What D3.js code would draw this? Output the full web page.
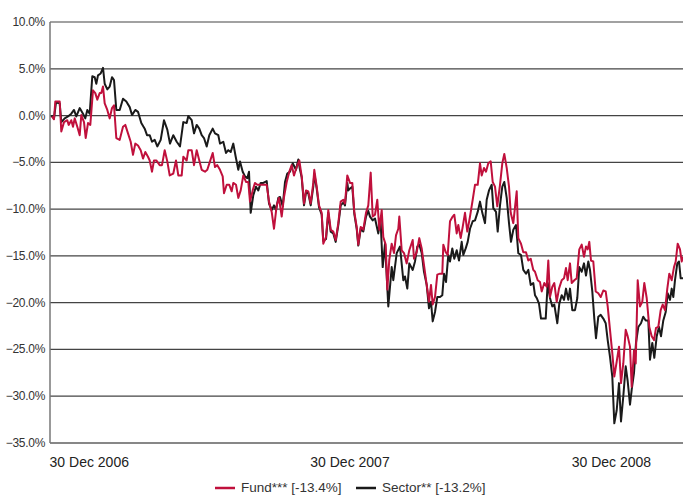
<!DOCTYPE html>
<html>
<head>
<meta charset="utf-8">
<script src="https://cdn.jsdelivr.net/npm/d3@7"></script>
<style>
  body { margin: 0; background: #fff; }
  text { font-family: "Liberation Sans", Arial, sans-serif; fill: #333; }
</style>
</head>
<body>
<div id="chart"></div>
<script>
// weeks since 5 Nov 2006, cumulative % change
const startDate = new Date(2006, 10, 5);
const totalWeeks = 126.6;

const yTicks = [10, 5, 0, -5, -10, -15, -20, -25, -30, -35];
const xTickDates = [new Date(2006, 11, 30), new Date(2007, 11, 30), new Date(2008, 11, 30)];
const xTickLabels = ["30 Dec 2006", "30 Dec 2007", "30 Dec 2008"];

const seriesNames = ["Fund*** [-13.4%]", "Sector** [-13.2%]"];
const seriesColors = ["#c0103c", "#1a1a1a"];

const fund = [
  [0.4,-0.1],[0.8,-0.4],[1.06,1.5],[1.94,1.5],[2.26,-1.7],[2.8,-0.7],[3.46,-0.5],[3.74,-1.0],
  [4.26,-0.5],[4.6,-1.2],[4.94,-0.3],[5.46,-1.2],[5.94,-2.1],[6.26,0.05],[6.8,-0.7],[7.14,-2.4],
  [7.6,-0.8],[8.06,-1.0],[8.6,2.7],[9.06,2.4],[9.46,1.7],[9.94,2.4],[10.26,2.4],[10.6,3.1],
  [10.94,1.3],[11.46,0.6],[11.94,-0.3],[12.4,0.8],[12.8,1.1],[13.26,-2.4],[13.94,-2.6],[14.6,-1.2],
  [15.06,-1.0],[15.6,-1.9],[16.14,-2.8],[16.6,-4.2],[17.06,-3.0],[17.6,-3.2],[18.14,-3.7],[18.6,-4.6],
  [19.06,-3.9],[19.6,-4.4],[19.94,-4.8],[20.4,-6.0],[20.8,-4.8],[21.26,-4.8],[21.94,-5.3],[22.4,-5.3],
  [22.94,-3.7],[23.46,-4.9],[23.94,-6.4],[24.66,-6.2],[25.2,-4.8],[25.66,-6.4],[26.34,-6.4],[26.66,-4.4],
  [27.34,-4.8],[27.66,-3.7],[28.34,-3.7],[28.8,-5.3],[29.34,-3.7],[29.86,-4.8],[30.34,-5.8],[31.0,-6.0],
  [31.46,-5.8],[32.0,-4.9],[32.54,-4.0],[33.0,-5.5],[33.46,-5.3],[34.0,-5.8],[34.54,-6.5],[34.8,-8.3],
  [35.34,-7.4],[35.86,-7.4],[36.34,-8.1],[36.66,-7.2],[37.2,-7.4],[37.66,-8.8],[38.14,-8.0],[38.66,-6.4],
  [39.2,-7.1],[39.66,-7.1],[40.0,-9.2],[40.54,-8.0],[41.0,-7.2],[41.46,-7.4],[42.0,-7.4],[42.66,-7.4],
  [43.34,-7.4],[43.8,-9.2],[44.34,-10.3],[44.8,-12.1],[45.34,-9.6],[45.8,-8.8],[46.34,-10.8],[46.8,-8.7],
  [47.34,-7.1],[47.86,-6.0],[48.34,-5.3],[48.8,-6.4],[49.34,-5.5],[49.86,-4.8],[50.34,-6.5],[50.8,-9.4],
  [51.2,-8.0],[51.66,-8.1],[52.14,-9.4],[52.66,-7.2],[52.86,-5.8],[53.34,-7.6],[53.8,-9.6],[54.34,-10.4],
  [54.66,-13.7],[55.2,-13.0],[55.66,-10.1],[56.14,-12.2],[56.66,-12.4],[57.14,-13.3],[57.66,-11.5],[58.14,-9.2],
  [58.66,-9.0],[59.0,-9.4],[59.46,-6.4],[60.0,-7.2],[60.46,-7.2],[60.86,-10.3],[61.34,-11.9],[61.66,-13.8],
  [62.14,-11.9],[62.66,-12.2],[63.2,-10.4],[63.66,-9.6],[64.14,-6.1],[64.54,-10.8],[65.0,-10.6],[65.46,-9.0],
  [65.86,-12.2],[66.34,-10.1],[66.66,-13.0],[67.14,-13.8],[67.46,-18.6],[67.86,-15.4],[68.34,-13.7],[68.8,-14.7],
  [69.2,-12.8],[69.66,-12.1],[69.86,-10.8],[70.34,-14.4],[70.8,-14.7],[71.34,-15.8],[71.86,-14.4],[72.54,-13.3],
  [72.8,-15.3],[73.34,-14.6],[73.86,-13.1],[74.34,-14.2],[74.8,-16.0],[75.34,-18.1],[75.8,-19.9],[76.2,-18.1],
  [76.54,-20.2],[77.0,-19.4],[77.46,-17.0],[78.0,-16.9],[78.46,-16.9],[78.66,-13.8],[79.14,-14.6],[79.54,-14.9],
  [80.0,-11.3],[80.54,-10.8],[80.86,-10.6],[81.34,-12.6],[81.66,-11.7],[82.14,-13.1],[82.54,-11.9],[83.0,-10.4],
  [83.46,-12.4],[84.0,-10.8],[84.54,-9.0],[85.0,-7.4],[85.54,-7.4],[86.0,-5.1],[86.34,-6.4],[86.8,-5.6],
  [87.2,-6.0],[87.66,-5.1],[88.14,-4.9],[88.54,-7.1],[89.0,-7.6],[89.46,-9.7],[90.0,-7.4],[90.46,-5.1],
  [90.86,-4.1],[91.34,-5.6],[91.8,-7.6],[92.14,-10.4],[92.66,-11.5],[93.34,-8.1],[93.66,-13.1],[94.2,-13.7],
  [94.66,-14.6],[95.2,-14.6],[95.66,-15.5],[96.14,-15.3],[96.66,-16.5],[97.0,-16.7],[97.54,-17.6],[98.0,-17.8],
  [98.34,-18.8],[98.86,-17.9],[99.34,-18.3],[99.66,-15.5],[100.0,-19.4],[100.46,-18.3],[100.86,-17.9],[101.34,-19.9],
  [101.8,-18.5],[102.34,-17.6],[102.8,-17.4],[103.2,-16.3],[103.54,-17.6],[104.0,-15.8],[104.34,-17.9],[104.86,-17.6],
  [105.34,-17.4],[105.86,-14.3],[106.34,-13.8],[106.8,-15.1],[107.2,-14.0],[107.54,-14.3],[107.86,-13.5],[108.2,-15.5],
  [108.66,-15.6],[109.14,-18.8],[109.66,-19.0],[110.14,-19.4],[110.66,-18.7],[111.14,-18.8],[111.54,-20.4],[112.0,-22.9],
  [112.46,-25.4],[112.86,-27.9],[113.34,-26.3],[113.8,-24.7],[114.2,-28.6],[114.66,-26.5],[115.14,-22.9],[115.54,-23.6],
  [116.0,-24.7],[116.34,-29.0],[116.8,-25.1],[117.14,-26.5],[117.54,-17.6],[118.0,-20.4],[118.46,-19.9],[118.86,-17.9],
  [119.34,-19.5],[119.86,-22.6],[120.34,-23.6],[120.8,-24.0],[121.2,-22.7],[121.66,-22.6],[122.14,-20.8],[122.54,-20.2],
  [123.0,-20.8],[123.46,-18.5],[123.86,-16.9],[124.34,-17.6],[124.8,-16.2],[125.14,-15.6],[125.54,-13.7],[126.0,-14.3],
  [126.34,-15.6],[126.6,-15.1]
];

const sector = [
  [0.26,0.0],[0.8,-0.3],[1.2,1.4],[1.94,1.3],[2.26,-0.7],[2.94,-0.3],[3.6,-0.1],[4.26,0.2],
  [4.8,0.6],[5.26,-0.1],[5.94,0.8],[6.6,0.2],[7.06,-0.3],[7.46,0.6],[7.94,0.2],[8.46,4.2],
  [8.94,4.1],[9.26,3.4],[9.6,4.3],[10.14,4.5],[10.6,5.1],[10.94,3.4],[11.46,2.8],[11.94,3.1],
  [12.4,4.1],[12.8,3.8],[13.26,0.6],[13.94,0.6],[14.6,1.8],[15.26,1.5],[15.94,0.9],[16.4,0.05],
  [17.06,0.6],[17.6,0.4],[18.26,-0.8],[18.94,-1.4],[19.4,-2.1],[19.94,-2.1],[20.4,-2.8],[20.94,-2.6],
  [21.46,-3.3],[22.14,-2.6],[22.8,-0.5],[23.46,-1.5],[24.0,-3.0],[24.66,-2.1],[25.34,-2.8],[26.0,-3.3],
  [26.66,-0.7],[27.34,-0.8],[27.66,-0.05],[28.34,-0.5],[28.8,-1.9],[29.34,-1.0],[29.86,-1.4],[30.34,-2.1],
  [30.8,-2.4],[31.34,-3.3],[31.86,-2.1],[32.54,-1.4],[33.0,-1.9],[33.66,-2.1],[34.0,-3.0],[34.66,-2.8],
  [35.2,-4.0],[35.66,-3.7],[36.14,-3.9],[36.66,-3.0],[37.14,-4.4],[37.66,-5.8],[38.0,-4.9],[38.54,-6.0],
  [39.0,-6.5],[39.46,-6.7],[39.8,-6.0],[40.14,-10.4],[40.66,-8.5],[41.2,-7.6],[41.66,-8.0],[42.14,-7.2],
  [42.66,-7.2],[43.34,-7.0],[43.8,-9.4],[44.34,-10.1],[44.8,-9.6],[45.2,-10.1],[45.66,-8.8],[46.0,-8.7],
  [46.54,-9.7],[47.0,-7.1],[47.46,-6.2],[48.0,-6.0],[48.54,-5.1],[49.2,-5.8],[49.66,-4.7],[50.0,-5.8],
  [50.34,-6.6],[50.8,-9.6],[51.2,-8.2],[51.66,-8.3],[52.14,-9.6],[52.66,-7.6],[52.86,-6.2],[53.34,-7.8],
  [53.8,-9.8],[54.34,-10.6],[54.66,-13.4],[55.2,-13.2],[55.66,-10.4],[56.14,-12.4],[56.66,-12.6],[57.14,-13.5],
  [57.66,-11.7],[58.14,-9.6],[58.66,-9.3],[59.0,-9.6],[59.46,-7.2],[59.66,-8.0],[60.0,-7.8],[60.46,-7.6],
  [60.86,-10.5],[61.34,-12.1],[61.66,-13.9],[62.14,-12.1],[62.66,-12.4],[63.2,-10.8],[63.66,-10.2],[64.0,-10.8],
  [64.54,-11.2],[65.0,-11.0],[65.66,-12.6],[66.1,-11.0],[66.54,-16.2],[67.0,-13.7],[67.66,-20.4],[68.34,-16.2],
  [68.66,-17.6],[69.34,-14.7],[70.0,-14.0],[70.66,-17.6],[71.0,-17.2],[71.46,-18.5],[71.86,-15.8],[72.54,-16.5],
  [73.0,-15.6],[73.46,-14.0],[73.86,-13.8],[74.34,-14.7],[74.8,-16.7],[75.34,-18.1],[75.8,-20.6],[76.2,-19.9],
  [76.54,-22.0],[77.0,-21.0],[77.46,-19.4],[78.0,-19.4],[78.46,-19.2],[78.8,-16.9],[79.2,-17.8],[79.66,-14.9],
  [80.0,-15.6],[80.46,-14.2],[80.86,-15.3],[81.34,-14.4],[81.8,-15.5],[82.34,-13.5],[82.66,-14.9],[83.14,-14.2],
  [83.54,-13.5],[84.0,-12.1],[84.54,-11.3],[85.0,-11.2],[85.54,-10.3],[86.0,-9.2],[86.46,-10.4],[87.0,-11.5],
  [87.34,-9.0],[87.8,-8.0],[88.34,-7.4],[88.66,-9.9],[89.2,-10.3],[89.54,-12.4],[90.0,-9.6],[90.46,-7.6],
  [90.86,-7.1],[91.34,-8.8],[91.8,-11.5],[92.2,-13.5],[92.66,-12.2],[93.2,-11.7],[93.66,-14.7],[94.2,-14.9],
  [94.66,-16.5],[95.2,-16.9],[95.66,-16.5],[96.14,-18.1],[96.66,-17.9],[97.0,-19.2],[97.34,-19.5],[97.8,-20.1],
  [98.2,-21.7],[98.66,-21.7],[99.14,-21.7],[99.54,-17.9],[100.0,-19.5],[100.46,-20.4],[100.86,-20.2],[101.46,-22.2],
  [101.86,-20.1],[102.34,-19.2],[102.8,-19.7],[103.2,-18.5],[103.66,-19.7],[104.0,-18.5],[104.46,-20.8],[105.0,-20.8],
  [105.46,-19.5],[105.86,-16.2],[106.34,-16.7],[106.8,-15.8],[107.2,-17.1],[107.66,-15.6],[108.0,-16.5],[108.46,-18.8],
  [108.86,-21.7],[109.2,-23.8],[109.66,-21.5],[110.14,-21.3],[110.66,-21.7],[111.14,-22.2],[111.54,-24.0],[112.0,-25.8],
  [112.46,-27.9],[112.86,-32.9],[113.34,-31.5],[113.8,-28.6],[114.2,-32.7],[114.66,-30.0],[115.14,-26.8],[115.54,-28.4],
  [116.0,-30.9],[116.34,-29.3],[116.8,-27.5],[117.2,-24.3],[117.66,-22.6],[118.2,-22.2],[118.66,-21.5],[119.14,-21.9],
  [119.66,-21.9],[120.0,-26.1],[120.46,-24.3],[120.86,-25.9],[121.34,-23.6],[121.8,-22.6],[122.2,-23.6],[122.66,-21.9],
  [123.14,-21.0],[123.54,-19.0],[124.0,-19.7],[124.34,-18.5],[124.66,-19.4],[125.0,-17.6],[125.46,-15.8],[125.8,-15.6],
  [126.14,-17.4],[126.6,-17.4]
];

const W = 683, H = 497;
const plotLeft = 50, plotRight = 683, plotTop = 22, plotBottom = 443;

const weekToDate = w => new Date(startDate.getTime() + w * 7 * 864e5);

const x = d3.scaleTime()
  .domain([startDate, weekToDate(totalWeeks)])
  .range([plotLeft, plotRight]);
const y = d3.scaleLinear().domain([-35, 10]).range([plotBottom, plotTop]);

const svg = d3.select("#chart").append("svg")
  .attr("width", W).attr("height", H);

// horizontal grid
svg.append("g").selectAll("line")
  .data(yTicks)
  .enter().append("line")
  .attr("x1", plotLeft).attr("x2", plotRight)
  .attr("y1", d => y(d)).attr("y2", d => y(d))
  .attr("stroke", d => d === -35 ? "#111" : "#444")
  .attr("stroke-width", 1.2);

// y labels
svg.append("g").selectAll("text")
  .data(yTicks)
  .enter().append("text")
  .attr("x", 45).attr("y", d => y(d) + 4)
  .attr("text-anchor", "end")
  .style("font-size", "12px")
  .style("letter-spacing", "-0.3px")
  .text(d => d3.format(".1f")(d) + "%");

// left axis line
svg.append("line")
  .attr("x1", plotLeft).attr("x2", plotLeft)
  .attr("y1", plotTop).attr("y2", plotBottom)
  .attr("stroke", "#777").attr("stroke-width", 1.5);

// x labels
svg.append("g").selectAll("text")
  .data(xTickDates)
  .enter().append("text")
  .attr("x", d => x(d)).attr("y", 467)
  .attr("text-anchor", "middle")
  .style("font-size", "14px")
  .style("fill", "#222")
  .text((d, i) => xTickLabels[i]);

const line = d3.line()
  .x(d => x(weekToDate(d[0])))
  .y(d => y(d[1]));

[sector, fund].forEach((s, i) => {
  svg.append("path")
    .datum(s)
    .attr("fill", "none")
    .attr("stroke", i === 0 ? seriesColors[1] : seriesColors[0])
    .attr("stroke-width", 2)
    .attr("stroke-linejoin", "round")
    .attr("d", line);
});

// legend
const legendX = [215, 356];
const lg = svg.append("g");
seriesNames.forEach((name, i) => {
  lg.append("line")
    .attr("x1", legendX[i]).attr("x2", legendX[i] + 20)
    .attr("y1", 488).attr("y2", 488)
    .attr("stroke", seriesColors[i]).attr("stroke-width", 2.5);
  lg.append("text")
    .attr("x", legendX[i] + 26).attr("y", 492)
    .style("font-size", "13.5px")
    .text(name);
});
</script>
</body>
</html>
